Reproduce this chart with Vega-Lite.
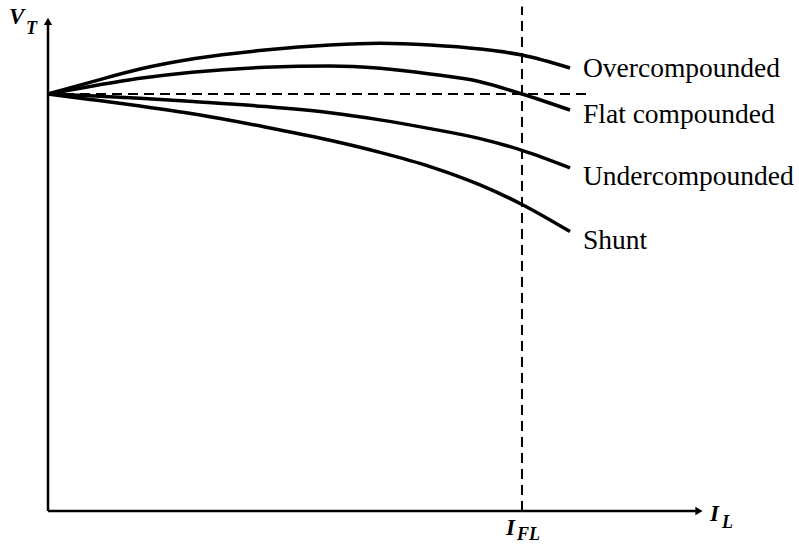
{
  "$schema": "https://vega.github.io/schema/vega-lite/v6.json",
  "width": 799,
  "height": 544,
  "autosize": {"type": "none"},
  "padding": 0,
  "background": "white",
  "config": {"view": {"stroke": null}},
  "datasets": {
    "curves": [
      {"series": "Overcompounded", "I": 0, "V": 1.0},
      {"series": "Overcompounded", "I": 0.0886, "V": 1.028},
      {"series": "Overcompounded", "I": 0.1941, "V": 1.060},
      {"series": "Overcompounded", "I": 0.3101, "V": 1.0851},
      {"series": "Overcompounded", "I": 0.4578, "V": 1.1055},
      {"series": "Overcompounded", "I": 0.5949, "V": 1.1175},
      {"series": "Overcompounded", "I": 0.7004, "V": 1.1216},
      {"series": "Overcompounded", "I": 0.8059, "V": 1.1175},
      {"series": "Overcompounded", "I": 0.9114, "V": 1.1079},
      {"series": "Overcompounded", "I": 1.0, "V": 1.0935},
      {"series": "Overcompounded", "I": 1.1013, "V": 1.0624},
      {"series": "Flat compounded", "I": 0, "V": 1.0},
      {"series": "Flat compounded", "I": 0.0886, "V": 1.018},
      {"series": "Flat compounded", "I": 0.1941, "V": 1.0376},
      {"series": "Flat compounded", "I": 0.3038, "V": 1.0523},
      {"series": "Flat compounded", "I": 0.4578, "V": 1.064},
      {"series": "Flat compounded", "I": 0.5949, "V": 1.0671},
      {"series": "Flat compounded", "I": 0.7004, "V": 1.0616},
      {"series": "Flat compounded", "I": 0.8059, "V": 1.048},
      {"series": "Flat compounded", "I": 0.9114, "V": 1.0295},
      {"series": "Flat compounded", "I": 1.0, "V": 1.0},
      {"series": "Flat compounded", "I": 1.1013, "V": 0.9616},
      {"series": "Undercompounded", "I": 0, "V": 1.0},
      {"series": "Undercompounded", "I": 0.0886, "V": 0.996},
      {"series": "Undercompounded", "I": 0.1941, "V": 0.990},
      {"series": "Undercompounded", "I": 0.3059, "V": 0.982},
      {"series": "Undercompounded", "I": 0.4578, "V": 0.970},
      {"series": "Undercompounded", "I": 0.5949, "V": 0.955},
      {"series": "Undercompounded", "I": 0.7004, "V": 0.938},
      {"series": "Undercompounded", "I": 0.8059, "V": 0.917},
      {"series": "Undercompounded", "I": 0.9114, "V": 0.893},
      {"series": "Undercompounded", "I": 1.0, "V": 0.865},
      {"series": "Undercompounded", "I": 1.1013, "V": 0.823},
      {"series": "Shunt", "I": 0, "V": 1.0},
      {"series": "Shunt", "I": 0.0886, "V": 0.987},
      {"series": "Shunt", "I": 0.1941, "V": 0.971},
      {"series": "Shunt", "I": 0.308, "V": 0.952},
      {"series": "Shunt", "I": 0.4578, "V": 0.921},
      {"series": "Shunt", "I": 0.5949, "V": 0.889},
      {"series": "Shunt", "I": 0.7004, "V": 0.860},
      {"series": "Shunt", "I": 0.8059, "V": 0.826},
      {"series": "Shunt", "I": 0.9114, "V": 0.782},
      {"series": "Shunt", "I": 1.0, "V": 0.735},
      {"series": "Shunt", "I": 1.1013, "V": 0.670}
    ],
    "axes": [
      {"name": "x-axis", "I": 0, "V": 0, "I2": 1.37, "V2": 0},
      {"name": "y-axis", "I": 0, "V": 0, "I2": 0, "V2": 1.17}
    ],
    "dashed": [
      {"name": "no-load voltage", "I": 0, "V": 1.0, "I2": 1.1477, "V2": 1.0},
      {"name": "full load current", "I": 1.0, "V": 0, "I2": 1.0, "V2": 1.21}
    ],
    "arrows": [
      {"name": "x-arrow", "I": 1.3734, "V": 0, "shape": "triangle-right"},
      {"name": "y-arrow", "I": 0, "V": 1.1743, "shape": "triangle-up"}
    ],
    "curveLabels": [
      {"label": "Overcompounded", "I": 1.1287, "V": 1.0408},
      {"label": "Flat compounded", "I": 1.1287, "V": 0.9298},
      {"label": "Undercompounded", "I": 1.1287, "V": 0.7818},
      {"label": "Shunt", "I": 1.1287, "V": 0.6276}
    ],
    "symbols": [
      {"label": "V", "I": -0.0823, "V": 1.1679, "fs": 23},
      {"label": "T", "I": -0.0464, "V": 1.1439, "fs": 18},
      {"label": "I", "I": 1.3966, "V": -0.024, "fs": 23},
      {"label": "L", "I": 1.4219, "V": -0.0408, "fs": 18},
      {"label": "I", "I": 0.9662, "V": -0.0576, "fs": 23},
      {"label": "FL", "I": 0.9895, "V": -0.0695, "fs": 18}
    ]
  },
  "encoding": {
    "x": {"field": "I", "type": "quantitative", "scale": {"domain": [-0.10127, 1.58439], "nice": false, "zero": false}, "axis": null},
    "y": {"field": "V", "type": "quantitative", "scale": {"domain": [-0.07914, 1.22542], "nice": false, "zero": false}, "axis": null}
  },
  "layer": [
    {
      "data": {"name": "dashed"},
      "mark": {"type": "rule", "color": "black", "strokeWidth": 2, "strokeDash": [10, 6]},
      "encoding": {"x2": {"field": "I2"}, "y2": {"field": "V2"}}
    },
    {
      "data": {"name": "axes"},
      "mark": {"type": "rule", "color": "black", "strokeWidth": 2.5},
      "encoding": {"x2": {"field": "I2"}, "y2": {"field": "V2"}}
    },
    {
      "data": {"name": "arrows"},
      "mark": {"type": "point", "filled": true, "color": "black", "opacity": 1, "size": 70},
      "encoding": {"shape": {"field": "shape", "type": "nominal", "scale": null}}
    },
    {
      "data": {"name": "curves"},
      "mark": {"type": "line", "color": "black", "strokeWidth": 3.5, "interpolate": "monotone"},
      "encoding": {"detail": {"field": "series", "type": "nominal"}, "order": {"field": "I", "type": "quantitative"}}
    },
    {
      "data": {"name": "curveLabels"},
      "mark": {"type": "text", "align": "left", "baseline": "alphabetic", "font": "Liberation Serif", "fontSize": 27.5, "color": "black"},
      "encoding": {"text": {"field": "label"}}
    },
    {
      "data": {"name": "symbols"},
      "mark": {"type": "text", "align": "left", "baseline": "alphabetic", "font": "Liberation Serif", "fontStyle": "italic", "fontWeight": "bold", "color": "black"},
      "encoding": {"text": {"field": "label"}, "size": {"field": "fs", "type": "quantitative", "scale": null}}
    }
  ]
}
